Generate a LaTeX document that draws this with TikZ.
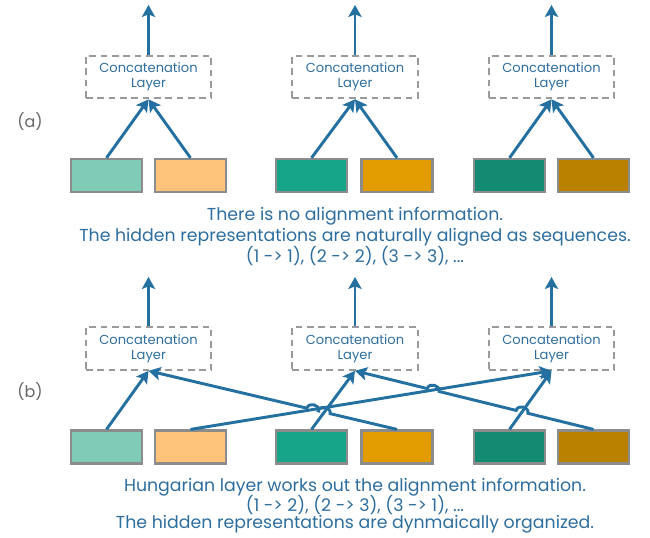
\documentclass[tikz,border=0pt]{standalone}
\usepackage{fontspec}
\setmainfont{Poppins}
\usetikzlibrary{arrows.meta,calc,intersections}
\definecolor{arrblue}{HTML}{2470A0}
\definecolor{txtblue}{HTML}{2E6E9E}
\definecolor{boxgray}{HTML}{8C8C8C}
\definecolor{dashgray}{HTML}{9A9A9A}
\definecolor{labgray}{HTML}{666666}
\definecolor{cA}{HTML}{7FCBB5}
\definecolor{cB}{HTML}{FEC37A}
\definecolor{cC}{HTML}{17A589}
\definecolor{cD}{HTML}{E39C00}
\definecolor{cE}{HTML}{138A72}
\definecolor{cF}{HTML}{BA8000}
\tikzset{
  hbox/.style={draw=boxgray, line width=1.9pt, minimum width=53pt, minimum height=24.5pt, inner sep=0pt},
  concat/.style={draw=dashgray, dash pattern=on 5pt off 3.5pt, line width=1.5pt, minimum width=94pt, minimum height=32pt, inner sep=0pt, align=center, text=txtblue, font=\fontsize{9.8}{11}\selectfont},
  arr/.style={draw=arrblue, line width=2.2pt, -{Stealth[length=9pt,width=10pt,inset=2pt]}},
  hop/.style={bend right=90, looseness=1.4},
  caption/.style={text=txtblue, align=center, font=\fontsize{13}{15}\selectfont},
  lab/.style={text=labgray, font=\fontsize{12}{14}\selectfont},
}
\begin{document}
\begin{tikzpicture}[x=0.75pt,y=-0.75pt]
\useasboundingbox (0,0) rectangle (650,538);
% ---------- (a) ----------
\node[lab] (la) at (30,122) {(a)};
\node[concat] (ca1) at (148.5,77) {Concatenation\\Layer};
\node[concat] (ca2) at (355,77) {Concatenation\\Layer};
\node[concat] (ca3) at (551.5,77) {Concatenation\\Layer};
\coordinate (ua1) at (148.5,5);
\coordinate (ua2) at (355,5);
\coordinate (ua3) at (551.5,5);
\node[hbox, fill=cA] (a1) at (106.5,175.5) {};
\node[hbox, fill=cB] (a2) at (190.5,175.5) {};
\node[hbox, fill=cC] (a3) at (311.5,175.5) {};
\node[hbox, fill=cD] (a4) at (397,175.5) {};
\node[hbox, fill=cE] (a5) at (509.5,175.5) {};
\node[hbox, fill=cF] (a6) at (593.5,175.5) {};
\draw[arr] (ca1.north) -- (ua1);
\draw[arr] (ca2.north) -- (ua2);
\draw[arr] (ca3.north) -- (ua3);
\draw[arr] (a1.north) -- (ca1.south);
\draw[arr] (a2.north) -- (ca1.south);
\draw[arr] (a3.north) -- (ca2.south);
\draw[arr] (a4.north) -- (ca2.south);
\draw[arr] (a5.north) -- (ca3.south);
\draw[arr] (a6.north) -- (ca3.south);
\node[caption] (ta1) at (355,216) {There is no alignment information.};
\node[caption] (ta2) at (355,237) {The hidden representations are naturally aligned as sequences.};
\node[caption] (ta3) at (355,256) {(1 -> 1), (2 -> 2), (3 -> 3), ...};
% ---------- (b) ----------
\node[lab] (lb) at (30,392) {(b)};
\node[concat] (cb1) at (148.5,348.5) {Concatenation\\Layer};
\node[concat] (cb2) at (355,348.5) {Concatenation\\Layer};
\node[concat] (cb3) at (551.5,348.5) {Concatenation\\Layer};
\coordinate (ub1) at (148.5,277);
\coordinate (ub2) at (355,277);
\coordinate (ub3) at (551.5,277);
\node[hbox, fill=cA] (b1) at (106.5,447) {};
\node[hbox, fill=cB] (b2) at (190.5,447) {};
\node[hbox, fill=cC] (b3) at (311.5,447) {};
\node[hbox, fill=cD] (b4) at (397,447) {};
\node[hbox, fill=cE] (b5) at (509.5,447) {};
\node[hbox, fill=cF] (b6) at (593.5,447) {};
\draw[arr] (cb1.north) -- (ub1);
\draw[arr] (cb2.north) -- (ub2);
\draw[arr] (cb3.north) -- (ub3);
\draw[arr] (b1.north) -- (cb1.south);
\draw[arr, name path=p3] (b3.north) -- (cb2.south);
\draw[arr, name path=p2] (b2.north) -- (cb3.south);
\draw[arr, name path=p5] (b5.north) -- (cb3.south);
\path[name path=l4] (b4.north) -- (cb1.south);
\path[name path=l6] (b6.north) -- (cb2.south);
\path[name intersections={of=l4 and p3, by=x43}];
\path[name intersections={of=l4 and p2, by=x42}];
\path[name intersections={of=l6 and p5, by=x65}];
\path[name intersections={of=l6 and p2, by=x62}];
\draw[arr] (b4.north) -- ($(x43)!4.5pt!(b4.north)$) to[hop] ($(x43)!4.5pt!(cb1.south)$)
  -- ($(x42)!4.5pt!(b4.north)$) to[hop] ($(x42)!4.5pt!(cb1.south)$) -- (cb1.south);
\draw[arr] (b6.north) -- ($(x65)!4.5pt!(b6.north)$) to[hop] ($(x65)!4.5pt!(cb2.south)$)
  -- ($(x62)!4.5pt!(b6.north)$) to[hop] ($(x62)!4.5pt!(cb2.south)$) -- (cb2.south);
\node[caption] (tb1) at (355,487) {Hungarian layer works out the alignment information.};
\node[caption] (tb2) at (355,505) {(1 -> 2), (2 -> 3), (3 -> 1), ...};
\node[caption] (tb3) at (355,524) {The hidden representations are dynmaically organized.};
\end{tikzpicture}
\end{document}
